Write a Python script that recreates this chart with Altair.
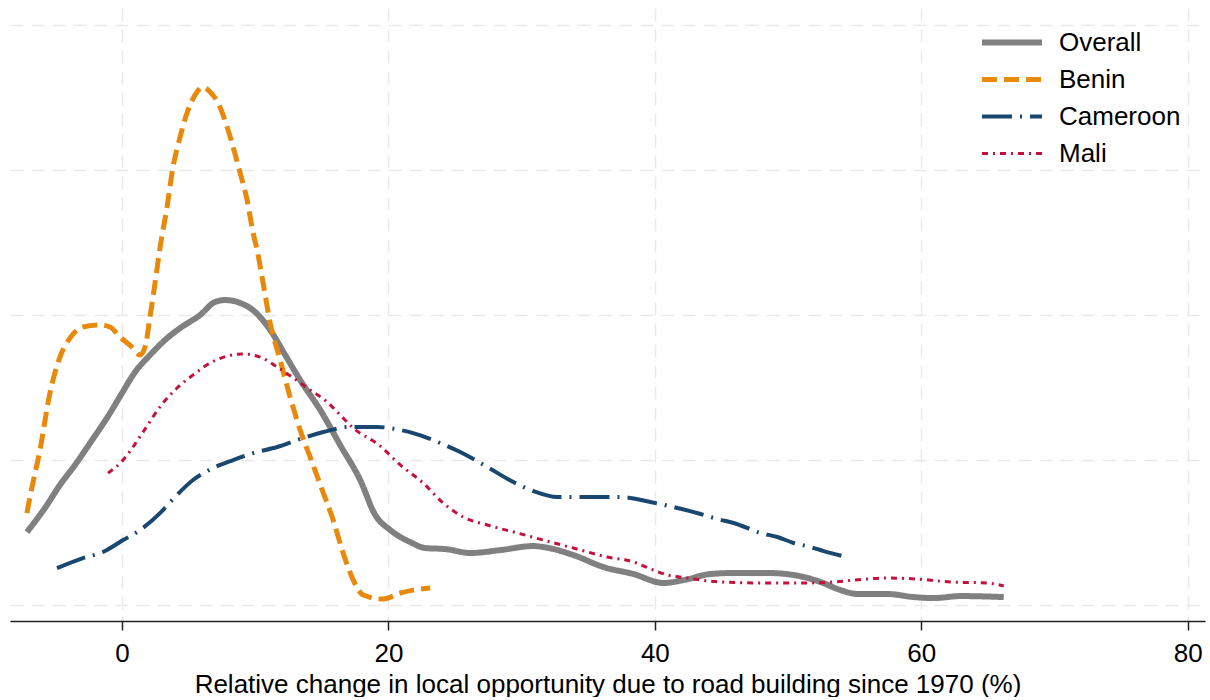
import altair as alt
import pandas as pd

# Kernel density estimates of the relative change in local opportunity (%)
series = ["Overall", "Benin", "Cameroon", "Mali"]
colors = ["#808080", "#E8890C", "#1A476F", "#C4103A"]
dashes = [[1, 0], [15, 7], [30, 8, 2, 8], [6, 5, 2, 5]]
widths = [6, 3, 3, 3]

overall_x = [-7.14, -5.79, -4.66, -3.53, -2.40, -0.90, 0.0, 0.98, 2.10, 3.23, 4.36, 5.86,
             6.99, 7.74, 8.87, 9.99, 11.12, 12.25, 13.37, 14.88, 16.38, 17.88, 19.01, 20.14,
             21.64, 22.77, 24.27, 26.15, 28.40, 30.88, 31.63, 33.88, 36.14, 38.39, 40.65,
             42.15, 44.18, 45.91, 48.46, 50.41, 52.44, 53.94, 55.22, 57.48, 59.43, 60.94,
             62.96, 66.19]
overall_y = [0.00503, 0.00669, 0.00828, 0.00966, 0.01117, 0.01324, 0.01462, 0.01607, 0.01724,
             0.01828, 0.01910, 0.02000, 0.02090, 0.02103, 0.02083, 0.02021, 0.01897, 0.01724,
             0.01552, 0.01345, 0.01103, 0.00862, 0.00621, 0.00517, 0.00434, 0.00393, 0.00386,
             0.00359, 0.00379, 0.00407, 0.00400, 0.00345, 0.00262, 0.00214, 0.00152, 0.00172,
             0.00214, 0.00221, 0.00221, 0.00207, 0.00159, 0.00103, 0.00076, 0.00076, 0.00055,
             0.00048, 0.00062, 0.00055]

benin_x = [-7.14, -6.91, -6.16, -5.41, -4.66, -3.91, -2.93, -1.65, -0.90, -0.15, 0.75, 1.35,
           1.73, 2.10, 2.48, 2.85, 3.38, 3.83, 4.36, 4.88, 5.63, 6.01, 6.61, 7.21, 7.89, 8.34,
           8.87, 9.39, 9.84, 10.14, 10.59, 11.12, 11.87, 12.62, 13.37, 14.12, 15.03, 15.85,
           16.60, 17.36, 18.11, 19.61, 20.89, 21.86, 23.14]
benin_y = [0.00634, 0.00745, 0.01069, 0.01462, 0.01710, 0.01841, 0.01917, 0.01931, 0.01917,
           0.01848, 0.01779, 0.01724, 0.01779, 0.01986, 0.02221, 0.02462, 0.02745, 0.03021,
           0.03228, 0.03393, 0.03538, 0.03572, 0.03538, 0.03462, 0.03297, 0.03159, 0.02979,
           0.02793, 0.02566, 0.02448, 0.02221, 0.01945, 0.01690, 0.01434, 0.01207, 0.01021,
           0.00793, 0.00586, 0.00359, 0.00172, 0.00069, 0.00041, 0.00083, 0.00103, 0.00117]

cameroon_x = [-4.88, -2.93, -1.43, 0.08, 1.35, 2.85, 3.83, 5.33, 6.84, 8.34, 9.84, 11.65,
              13.37, 15.10, 17.13, 19.16, 20.89, 21.86, 23.89, 25.39, 27.42, 29.38, 30.88,
              32.68, 34.64, 37.42, 39.67, 41.70, 43.43, 44.70, 45.91, 47.93, 49.21, 50.41,
              51.69, 52.67, 54.09]
cameroon_y = [0.00255, 0.00324, 0.00366, 0.00448, 0.00517, 0.00634, 0.00731, 0.00862, 0.00945,
              0.01000, 0.01048, 0.01090, 0.01145, 0.01193, 0.01228, 0.01228, 0.01207, 0.01186,
              0.01117, 0.01055, 0.00952, 0.00848, 0.00786, 0.00745, 0.00745, 0.00745, 0.00710,
              0.00669, 0.00628, 0.00593, 0.00566, 0.00497, 0.00469, 0.00428, 0.00400, 0.00372,
              0.00338]

mali_x = [-1.05, 0.08, 1.58, 2.85, 4.13, 5.33, 6.61, 7.89, 9.09, 10.37, 11.65, 12.85, 14.12,
          15.40, 16.38, 17.36, 19.38, 20.89, 22.61, 24.12, 25.62, 27.42, 29.68, 31.63, 33.88,
          36.44, 38.39, 39.89, 40.95, 42.45, 44.93, 48.46, 50.94, 53.42, 54.92, 57.48, 59.73,
          62.21, 64.99, 66.19]
mali_y = [0.00910, 0.01000, 0.01193, 0.01366, 0.01497, 0.01586, 0.01669, 0.01717, 0.01731,
          0.01710, 0.01641, 0.01566, 0.01483, 0.01400, 0.01310, 0.01221, 0.01097, 0.00966,
          0.00841, 0.00703, 0.00607, 0.00552, 0.00497, 0.00448, 0.00393, 0.00331, 0.00297,
          0.00241, 0.00207, 0.00186, 0.00159, 0.00152, 0.00152, 0.00159, 0.00172, 0.00186,
          0.00179, 0.00159, 0.00152, 0.00131]

x_ticks = [0, 20, 40, 60, 80]
y_grid = [0, 0.01, 0.02, 0.03, 0.04]

frames = []
for name, xs, ys in [("Overall", overall_x, overall_y), ("Benin", benin_x, benin_y),
                     ("Cameroon", cameroon_x, cameroon_y), ("Mali", mali_x, mali_y)]:
    frames.append(pd.DataFrame({"series": name, "x": xs, "y": ys}))
df = pd.concat(frames, ignore_index=True)
df["order"] = range(len(df))

FONT = "Liberation Sans"

legend = alt.Legend(
    title=None, orient="none", legendX=969, legendY=16, symbolType="stroke",
    symbolSize=3600, clipHeight=37, rowPadding=0, labelOffset=14, padding=0,
    labelFontSize=26, labelFont=FONT, labelColor="#000000", labelLimit=300,
)

chart = (
    alt.Chart(df)
    .mark_line(interpolate="monotone", strokeCap="butt", strokeJoin="round")
    .encode(
        x=alt.X("x:Q", scale=alt.Scale(domain=[-8.41, 81.3], nice=False, zero=False),
                axis=alt.Axis(values=x_ticks, title="Relative change in local opportunity due to road building since 1970 (%)",
                              grid=True, gridDash=[13, 8], gridColor="#E9E9E9", gridWidth=1.5,
                              domainColor="#222222", domainWidth=1.5, tickColor="#222222",
                              tickWidth=1.5, tickSize=9, labelFontSize=26, labelFont=FONT,
                              labelColor="#000000", labelPadding=10, titleFont=FONT,
                              titleFontSize=26, titleFontWeight="normal", titleColor="#000000",
                              titlePadding=5)),
        y=alt.Y("y:Q", scale=alt.Scale(domain=[-0.0011, 0.04117], nice=False, zero=False),
                axis=alt.Axis(values=y_grid, title=None, labels=False, ticks=False, domain=False,
                              grid=True, gridDash=[13, 8], gridColor="#E9E9E9", gridWidth=1.5)),
        color=alt.Color("series:N", scale=alt.Scale(domain=series, range=colors), legend=legend),
        strokeDash=alt.StrokeDash("series:N", scale=alt.Scale(domain=series, range=dashes), legend=legend),
        strokeWidth=alt.StrokeWidth("series:N", scale=alt.Scale(domain=series, range=widths), legend=legend),
        order=alt.Order("order:Q"),
    )
    .properties(width=1195, height=613, padding={"left": 10, "top": 8, "right": 5, "bottom": 0},
                background="#FFFFFF")
    .configure_view(stroke=None)
)

chart.save("out.html", embed_options={"renderer": "svg", "actions": False})
